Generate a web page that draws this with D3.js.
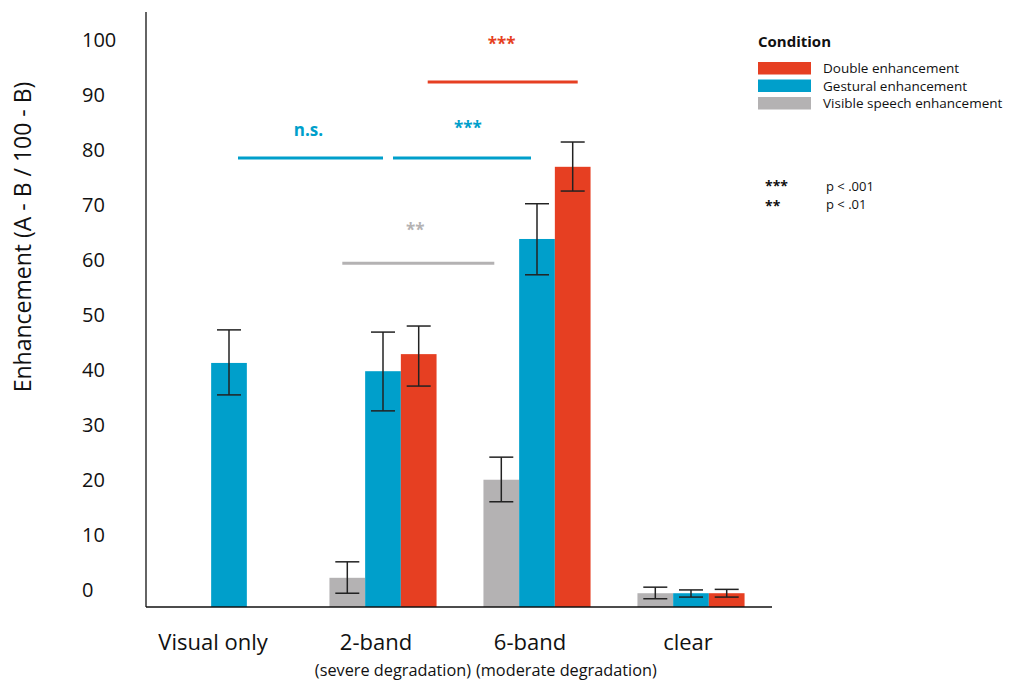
<!DOCTYPE html>
<html><head><meta charset="utf-8">
<script src="https://cdn.jsdelivr.net/npm/d3@7"></script>
<style>body{margin:0;background:#fff}svg{display:block}text{font-family:"Open Sans",sans-serif}</style>
</head><body><svg id="c" width="1011" height="682"></svg>
<script>
const categories = ["Visual only", "2-band", "6-band", "clear"];
const subLabels = ["", "(severe degradation)", "(moderate degradation)", ""];
const seriesNames = ["Visible speech enhancement", "Gestural enhancement", "Double enhancement"];
const colors = ["#B4B2B3", "#009FCB", "#E63F22"];
// values per category [visible, gestural, double]; null = no bar
const visibleVals  = [null, 2.3, 20.1, -0.5];
const visibleLo    = [null, -0.5, 16.1, -1.5];
const visibleHi    = [null, 5.2, 24.2, 0.6];
const gesturalVals = [41.3, 39.8, 63.8, -0.5];
const gesturalLo   = [35.5, 32.6, 57.3, -1.2];
const gesturalHi   = [47.3, 46.9, 70.2, 0.1];
const doubleVals   = [null, 42.9, 76.9, -0.5];
const doubleLo     = [null, 37.1, 72.5, -1.2];
const doubleHi     = [null, 48.0, 81.4, 0.2];
const yTicks = [0, 10, 20, 30, 40, 50, 60, 70, 80, 90, 100];
// significance brackets: [fromCat, fromSeries, toCat, toSeries, yValue, label, colorIndex]
const sigs = [
  ["Visual only", 1, "2-band", 1, 78.5, "n.s.", 1],
  ["2-band", 1, "6-band", 1, 78.5, "***", 1],
  ["2-band", 2, "6-band", 2, 92.3, "***", 2],
  ["2-band", 0, "6-band", 0, 59.4, "**", 0]
];

const svg = d3.select("#c");
const x = d3.scaleBand().domain(categories).range([152, 768]).paddingInner(0).paddingOuter(0);
const barW = 35.7;
const y = d3.scaleLinear().domain([-3, 105]).range([607, 12]);
const series = [
  {vals: visibleVals, lo: visibleLo, hi: visibleHi},
  {vals: gesturalVals, lo: gesturalLo, hi: gesturalHi},
  {vals: doubleVals, lo: doubleLo, hi: doubleHi}
];
function barX(cat, s){ const c = x(cat) + x.bandwidth()/2; return c + (s-1)*barW - barW/2; }
function barC(cat, s){ return barX(cat, s) + barW/2; }

// bars
series.forEach((se, s) => {
  const data = categories.map((c, i) => ({c, v: se.vals[i], lo: se.lo[i], hi: se.hi[i]})).filter(d => d.v !== null);
  svg.append("g").selectAll("rect").data(data).join("rect")
    .attr("x", d => barX(d.c, s)).attr("width", barW)
    .attr("y", d => y(d.v)).attr("height", d => y(-3) - y(d.v))
    .attr("fill", colors[s]);
  const eg = svg.append("g").attr("stroke", "#222").attr("stroke-width", 1.5);
  data.forEach(d => {
    const cx = barC(d.c, s);
    eg.append("line").attr("x1", cx).attr("x2", cx).attr("y1", y(d.lo)).attr("y2", y(d.hi));
    eg.append("line").attr("x1", cx-12).attr("x2", cx+12).attr("y1", y(d.lo)).attr("y2", y(d.lo));
    eg.append("line").attr("x1", cx-12).attr("x2", cx+12).attr("y1", y(d.hi)).attr("y2", y(d.hi));
  });
});

// axes lines
svg.append("line").attr("x1", 146).attr("x2", 146).attr("y1", y(105)).attr("y2", y(-3)).attr("stroke", "#111").attr("stroke-width", 1.3);
svg.append("line").attr("x1", 146).attr("x2", 772).attr("y1", y(-3)).attr("y2", y(-3)).attr("stroke", "#111").attr("stroke-width", 1.3);

// y tick labels
svg.append("g").selectAll("text").data(yTicks).join("text")
  .attr("x", 82).attr("y", d => y(d)).attr("dy", "0.35em")
  .attr("font-size", 20).attr("fill", "#111").text(d => d);

// y axis title
svg.append("text").attr("transform", `translate(31,237) rotate(-90)`)
  .attr("text-anchor", "middle").attr("font-size", 23).attr("fill", "#111")
  .text("Enhancement (A - B / 100 - B)");

// x labels
const labOff = [-16, -7, -7, -3];
svg.append("g").selectAll("text").data(categories).join("text")
  .attr("x", (d,i) => x(d) + x.bandwidth()/2 + labOff[i]).attr("y", 650)
  .attr("text-anchor", "middle").attr("font-size", 22).attr("fill", "#111").text(d => d);
// sub labels meet at the boundary between 2-band and 6-band
const subAnchor = ["middle", "end", "start", "middle"];
const subOff = [0, 11, 16, 0];
svg.append("g").selectAll("text").data(subLabels).join("text")
  .attr("x", (d,i) => (i === 1 || i === 2 ? x(categories[2]) : x(categories[i]) + x.bandwidth()/2) + subOff[i])
  .attr("y", 676)
  .attr("text-anchor", (d,i) => subAnchor[i]).attr("font-size", 16.3).attr("fill", "#111").text(d => d);

// significance
const pads = [[9, 0], [10, -6], [9, 5], [-5, -7]];
const labDx = [-2, 6, -1, -3];
const labDy = [-22, -24, -32, -27];
sigs.forEach((sg, i) => {
  const x1 = barC(sg[0], sg[1]) + pads[i][0];
  const x2 = barC(sg[2], sg[3]) + pads[i][1];
  const col = colors[sg[6]];
  svg.append("line").attr("x1", x1).attr("x2", x2).attr("y1", y(sg[4])).attr("y2", y(sg[4]))
    .attr("stroke", col).attr("stroke-width", 3);
  svg.append("text").attr("x", (x1+x2)/2 + labDx[i])
    .attr("y", y(sg[4]) + labDy[i])
    .attr("text-anchor", "middle").attr("font-size", 17).attr("font-weight", "bold")
    .attr("fill", col).text(sg[5]);
});

// legend
const lg = svg.append("g");
lg.append("text").attr("x", 758).attr("y", 47).attr("font-size", 15).attr("font-weight", "bold").attr("fill", "#111").text("Condition");
const legOrder = [2, 1, 0];
legOrder.forEach((s, k) => {
  lg.append("rect").attr("x", 758).attr("y", 62 + k*17.5).attr("width", 53).attr("height", 12.5).attr("fill", colors[s]);
  lg.append("text").attr("x", 823).attr("y", 68.5 + k*17.5).attr("dy", "0.35em").attr("font-size", 13.5).attr("fill", "#111").text(seriesNames[s]);
});
const pLegend = [["***", "p < .001"], ["**", "p < .01"]];
pLegend.forEach((p, k) => {
  lg.append("text").attr("x", 765).attr("y", 191 + k*20).attr("font-size", 14).attr("font-weight", "bold").attr("fill", "#111").text(p[0]);
  lg.append("text").attr("x", 826).attr("y", 191 + k*18).attr("font-size", 13).attr("fill", "#111").text(p[1]);
});
</script></body></html>
